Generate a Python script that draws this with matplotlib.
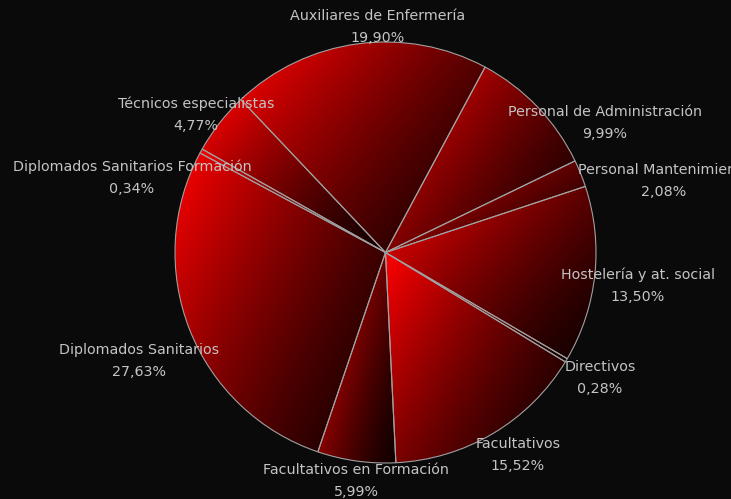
import matplotlib
matplotlib.use("Agg")
import matplotlib.pyplot as plt
import numpy as np

# Datos
categorias = ["Auxiliares de Enfermería", "Personal de Administración", "Personal Mantenimiento",
              "Hostelería y at. social", "Directivos", "Facultativos",
              "Facultativos en Formación", "Diplomados Sanitarios",
              "Diplomados Sanitarios Formación", "Técnicos especialistas"]
porcentajes = [19.90, 9.99, 2.08, 13.50, 0.28, 15.52, 5.99, 27.63, 0.34, 4.77]

# label centres in pixels (top-left origin), layout only
pos_etiquetas = [(378, 16), (605, 112), (664, 170), (638, 275), (600, 367),
                 (518, 444), (356, 470), (139, 350), (132, 167), (196, 104)]

W, H = 731, 499
BG = '#0a0a0a'
fig = plt.figure(figsize=(W / 100, H / 100), dpi=100, facecolor=BG)
ax = fig.add_axes([0, 0, 1, 1])
ax.set_facecolor(BG)

cx, cy, R = 385.5, H - 252.5, 210.5
wedges, _ = ax.pie(porcentajes, center=(cx, cy), radius=R, startangle=133.4,
                   counterclock=False,
                   wedgeprops=dict(edgecolor='#a0a0a0', linewidth=0.8,
                                   facecolor='none', zorder=3))

# gradient fill, clipped to each wedge
for w in wedges:
    bb = w.get_path().get_extents()
    xn = np.linspace(0, 1, 256)[None, :]
    yn = np.linspace(0, 1, 256)[:, None]
    t = np.clip(0.58 * xn + 0.42 * yn, 0, 1)
    v = (255 * (1 - t) ** 1.35 + 18 * t) / 255
    img = np.zeros((256, 256, 3))
    img[..., 0] = v
    im = ax.imshow(img, extent=[bb.x0, bb.x1, bb.y0, bb.y1], origin='upper',
                   interpolation='bilinear', zorder=1)
    im.set_clip_path(w)

for nombre, p, (x, y) in zip(categorias, porcentajes, pos_etiquetas):
    ax.text(x, H - y, nombre, color='#c4c4c4', fontsize=10.3, ha='center', va='center', zorder=5)
    ax.text(x, H - y - 22, f"{p:.2f}".replace('.', ',') + "%", color='#c4c4c4',
            fontsize=10.3, ha='center', va='center', zorder=5)

ax.set_xlim(0, W)
ax.set_ylim(0, H)
ax.set_aspect('equal')
ax.axis('off')

fig.savefig('out.png', dpi=100, facecolor=BG)
